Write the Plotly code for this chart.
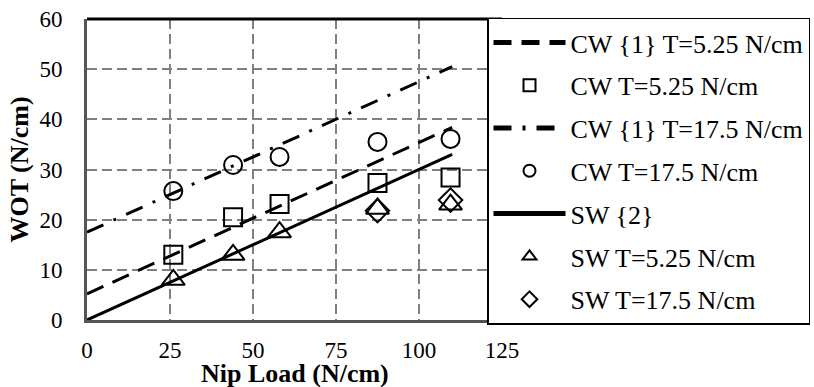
import plotly.graph_objects as go

# ---- data ----
nip_load = [26, 44, 58, 87.5, 109.5]
cw_t525 = [13.0, 20.5, 23.1, 27.3, 28.4]
cw_t175 = [25.7, 30.9, 32.5, 35.5, 36.1]
sw_t525 = [8.0, 13.0, 17.5, 22.2, 23.0]
sw_t175_x = [87.5, 109.5]
sw_t175 = [21.8, 23.9]

model_x = [0, 110]
cw1_t525 = [5.2, 38.4]
cw1_t175 = [17.5, 50.5]
sw2 = [0.0, 33.0]

x_ticks = [0, 25, 50, 75, 100, 125]
y_ticks = [0, 10, 20, 30, 40, 50, 60]

FONT = "Liberation Serif"
W, H = 814, 387
PX_L, PX_R, PX_T, PX_B = 87, 502, 19, 320  # plot-area pixel bounds

fig = go.Figure()

def add_line(x, y, name, dash, grp):
    fig.add_trace(go.Scatter(x=x, y=y, mode="lines", name=name, legendgroup=grp,
                             line=dict(color="black", width=3, dash=dash)))

def add_pts(x, y, name, symbol, size, grp):
    fig.add_trace(go.Scatter(x=x, y=y, mode="markers", name=name, legendgroup=grp,
                             marker=dict(symbol=symbol, size=size, color="black",
                                         line=dict(color="black", width=2))))

add_line(model_x, cw1_t525, "CW {1} T=5.25 N/cm", "18px,10px", "g1")
add_pts(nip_load, cw_t525, "CW T=5.25 N/cm", "square-open", 18, "g2")
add_line(model_x, cw1_t175, "CW {1} T=17.5 N/cm", "18px,11px,3px,11px", "g3")
add_pts(nip_load, cw_t175, "CW T=17.5 N/cm", "circle-open", 18, "g4")
add_line(model_x, sw2, "SW {2}", "solid", "g5")
add_pts(nip_load, sw_t525, "SW T=5.25 N/cm", "triangle-up-open", 20, "g6")
add_pts(sw_t175_x, sw_t175, "SW T=17.5 N/cm", "diamond-open", 18, "g7")

fig.update_layout(
    width=W, height=H,
    margin=dict(l=0, r=0, t=0, b=0, autoexpand=False),
    paper_bgcolor="white", plot_bgcolor="white",
    font=dict(family=FONT, color="black", size=23),
    showlegend=True,
    legend=dict(x=487 / W, xanchor="left", y=1 - 17.5 / H, yanchor="top",
                bgcolor="white", bordercolor="black", borderwidth=1.5,
                font=dict(family=FONT, size=26, color="black"),
                tracegroupgap=6, itemsizing="constant", traceorder="grouped",
                itemwidth=72),
    xaxis=dict(domain=[PX_L / W, PX_R / W],
               range=[0, 125], tickvals=x_ticks, ticktext=[str(v) for v in x_ticks],
               showgrid=True, gridcolor="#808080", gridwidth=1.8, griddash="10px,5px",
               zeroline=False, showline=True, linecolor="#555555", linewidth=3,
               ticks="", ticklabelstandoff=7,
               tickfont=dict(family=FONT, size=23)),
    yaxis=dict(domain=[1 - PX_B / H, 1 - PX_T / H],
               range=[0, 60], tickvals=y_ticks, ticktext=[str(v) for v in y_ticks],
               showgrid=True, gridcolor="#808080", gridwidth=1.8, griddash="10px,5px",
               zeroline=False, showline=True, linecolor="#555555", linewidth=3,
               ticks="", ticklabelstandoff=17,
               tickfont=dict(family=FONT, size=23),
               title=dict(text="<b>WOT (N/cm)</b>", font=dict(family=FONT, size=26), standoff=4)),
    shapes=[dict(type="line", xref="x domain", yref="y domain", x0=0, x1=1, y0=1, y1=1,
                 line=dict(color="black", width=3))],
    annotations=[dict(text="<b>Nip Load (N/cm)</b>", xref="x domain", x=0.5,
                      yref="paper", y=0, yanchor="bottom", xanchor="center",
                      showarrow=False, font=dict(family=FONT, size=26),
                      borderpad=0, yshift=-2)],
)

fig.write_html("out.html")
